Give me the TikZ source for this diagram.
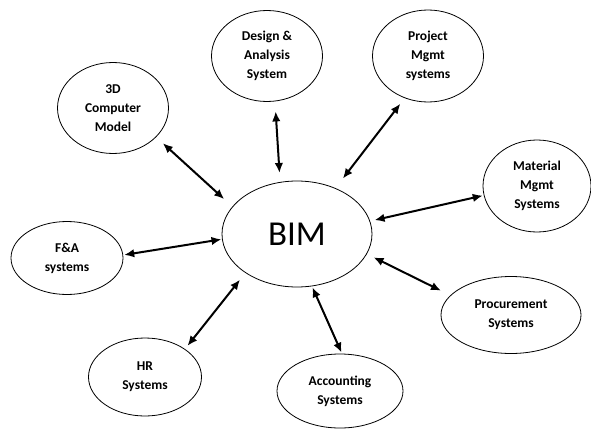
\documentclass[tikz,border=0pt]{standalone}
\usepackage{fontspec}
\setmainfont{Carlito}
\usetikzlibrary{
arrows.meta,
shapes.geometric
}
\tikzset{
bubble/.style={
draw,
ellipse,
line width=.8pt,
align=center,
inner sep=0pt,
font=\bfseries\fontsize{13.5}{19}\selectfont
},
hub/.style={
draw,
ellipse,
line width=.8pt,
inner sep=0pt,
minimum width=150pt,
minimum height=106pt,
font=\fontsize{35}{40}\selectfont
},
arrow/.style={
{Latex[length=10pt,width=8.5pt]}-{Latex[length=10pt,width=8.5pt]},
line width=2pt
}
}

\begin{document}
\begin{tikzpicture}[x=1pt,y=1pt]

\useasboundingbox (0,0) rectangle (591,-428);

\node[hub] (bim) at (297,-234) {BIM};

\node[bubble, minimum width=111pt, minimum height=91pt] (cad) at (113,-108) {3D\\Computer\\Model};
\node[bubble, minimum width=111pt, minimum height=91pt] (design) at (267,-56) {Design \&\\Analysis\\System};
\node[bubble, minimum width=111pt, minimum height=92pt] (pm) at (428,-56) {Project\\Mgmt\\systems};
\node[bubble, minimum width=108pt, minimum height=92pt] (mm) at (537,-186) {Material\\Mgmt\\Systems};
\node[bubble, minimum width=112pt, minimum height=73pt] (fa) at (67,-258) {F\&A\\systems};
\node[bubble, minimum width=113pt, minimum height=78pt] (hr) at (145,-377) {HR\\Systems};
\node[bubble, minimum width=126pt, minimum height=74pt] (acc) at (340,-391) {Accounting\\Systems};
\node[bubble, minimum width=140pt, minimum height=77pt] (proc) at (511,-315) {Procurement\\Systems};

% links to the hub
\draw[arrow, shorten <=9pt, shorten >=11pt] (cad.-34) -- (bim.157.5);
\draw[arrow, shorten <=10pt, shorten >=9pt] (design.-80) -- (bim.108);
\draw[arrow, shorten <=7pt, shorten >=12pt] (pm.241.6) -- (bim.50);
\draw[arrow, shorten <=1pt, shorten >=4.5pt] (mm.190.5) -- (bim.10.3);
\draw[arrow, shorten <=1pt, shorten >=.5pt] (fa.3) -- (bim.184.6);
\draw[arrow, shorten <=4pt, shorten >=8.6pt] (hr.35) -- (bim.217);
\draw[arrow, shorten <=1pt, shorten >=1pt] (acc.87) -- (bim.-74);
\draw[arrow, shorten <=10.4pt, shorten >=7.4pt] (proc.162.8) -- (bim.-16.8);

\end{tikzpicture}
\end{document}
